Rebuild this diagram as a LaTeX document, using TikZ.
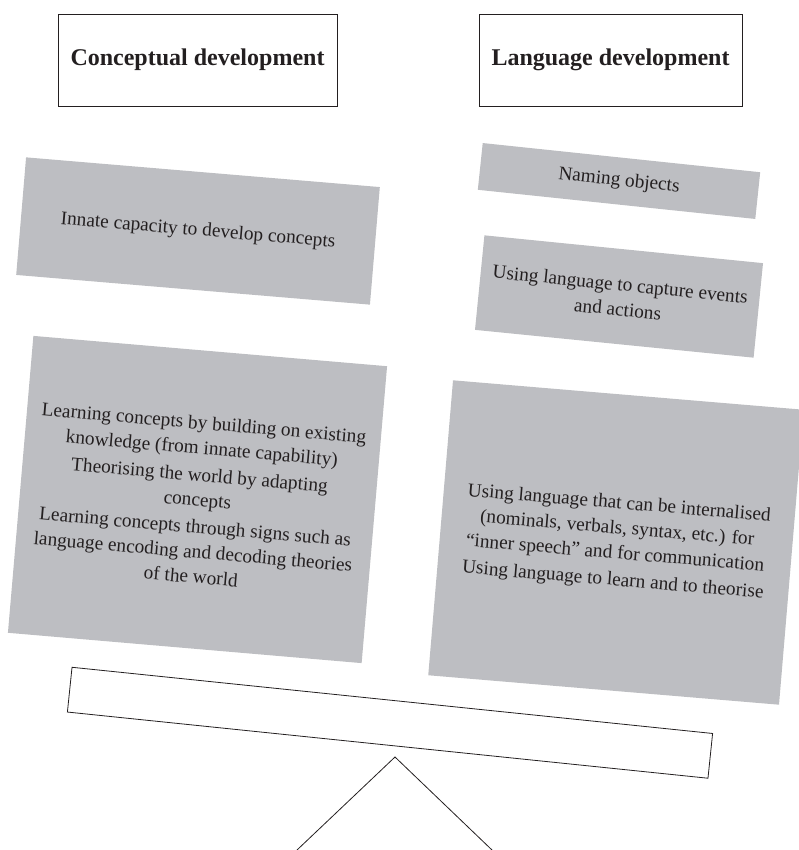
\documentclass[tikz,border=0pt]{standalone}
\usepackage{fontspec}
\setmainfont{Liberation Serif}
\definecolor{boxgray}{RGB}{189,190,194}
\definecolor{ink}{RGB}{35,31,32}
\begin{document}
\begin{tikzpicture}[x=1pt,y=-1pt,
  graybox/.style={fill=boxgray, draw=none, inner sep=0pt, align=center, text=ink,
    font=\fontsize{19.3}{25}\selectfont},
  titlebox/.style={draw=ink, line width=0.8pt, minimum height=92pt, inner sep=0pt,
    font=\fontsize{24}{28}\selectfont\bfseries, text=ink},
  outline/.style={draw=ink, line width=0.8pt}]
\useasboundingbox (0,0) rectangle (798,850);

% titles
\node[titlebox, minimum width=279pt] (concept) at (197.5,60) {Conceptual development};
\node[titlebox, minimum width=263pt] (lang) at (610.5,60) {Language development};

% left column
\node[graybox, minimum width=355pt, minimum height=118pt, rotate=-4.8] (innate) at (198,231)
  {Innate capacity to develop concepts};
\node[graybox, minimum width=355pt, minimum height=298pt, rotate=-4.9] (learn) at (197.5,499.5)
  {Learning concepts by building on existing\\
   knowledge (from innate capability)\\[2pt]
   Theorising the world by adapting\\
   concepts\\[2pt]
   Learning concepts through signs such as\\
   language encoding and decoding theories\\
   of the world};

% right column
\node[graybox, minimum width=279pt, minimum height=47pt, rotate=-6] (naming) at (619,181)
  {Naming objects};
\node[graybox, minimum width=280pt, minimum height=95pt, rotate=-5.7] (capture) at (619,296.5)
  {Using language to capture events\\and actions};
\node[graybox, minimum width=352pt, minimum height=296pt, rotate=-4.8] (intern) at (616,542.5)
  {Using language that can be internalised\\
   (nominals, verbals, syntax, etc.) for\\
   “inner speech” and for communication\\[2pt]
   Using language to learn and to theorise};

% seesaw
\node[outline, minimum width=644pt, minimum height=45pt, inner sep=0pt, rotate=-5.9] (plank) at (390,722.75) {};
\coordinate (apex) at (395,757);
\coordinate (footL) at (297,850);
\coordinate (footR) at (492,850);
\draw[outline, line join=miter] (footL) -- (apex) -- (footR);
\end{tikzpicture}
\end{document}
